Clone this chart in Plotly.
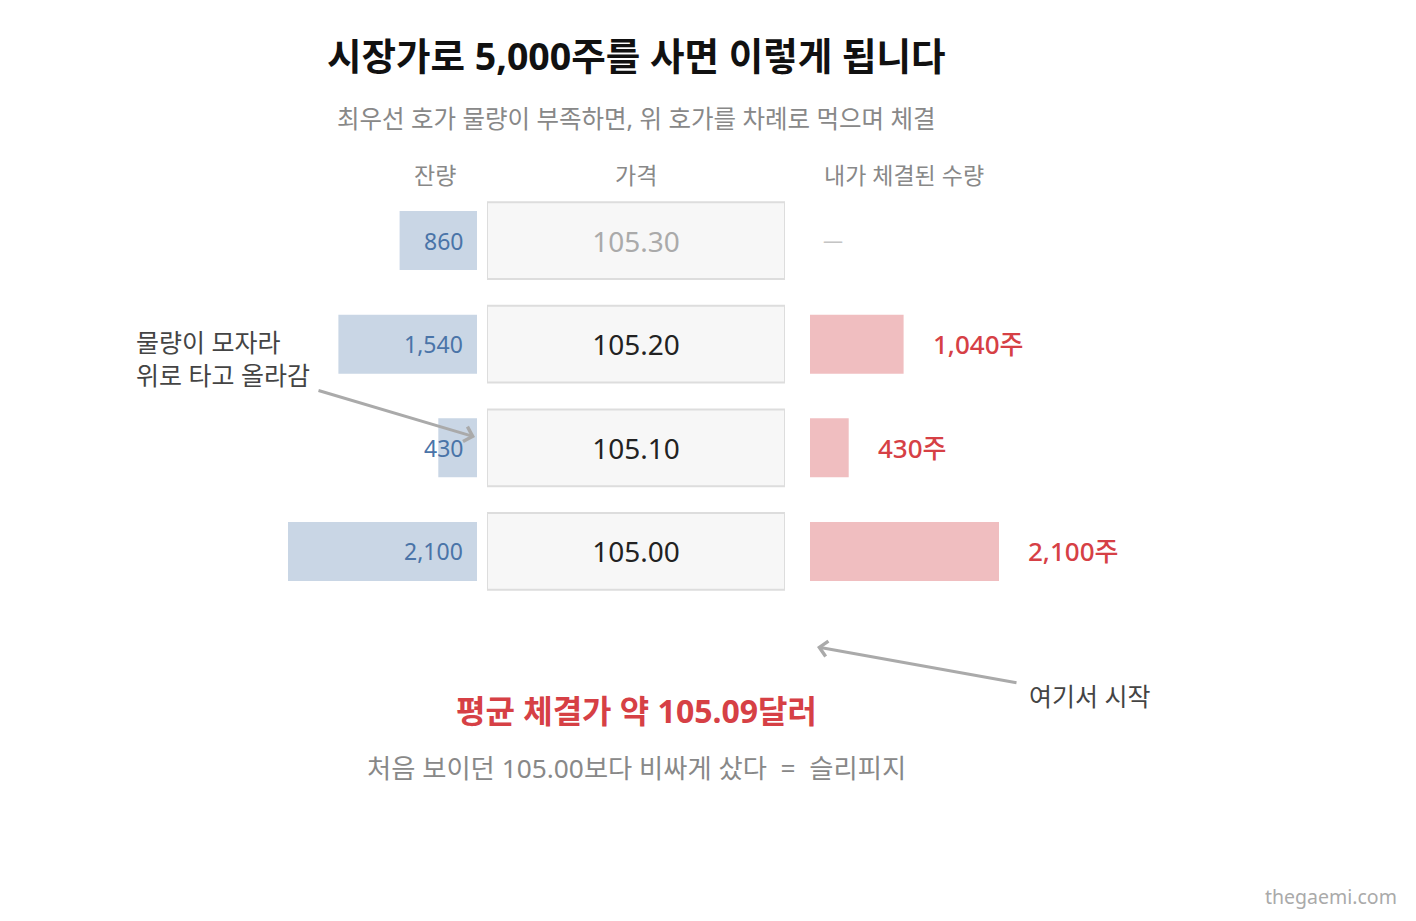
import plotly.graph_objects as go

# 호가창 데이터
prices = ['105.30', '105.20', '105.10', '105.00']
remaining = [860, 1540, 430, 2100]      # 잔량
filled = [0, 1040, 430, 2100]           # 내가 체결된 수량
rows = [0, 1, 2, 3]
price_colors = ['#aaaaaa', '#222222', '#222222', '#222222']

# 페이지 body 여백(8px) 만큼 피겨를 줄여서 화면에 딱 맞게
OX, OY = 8, 8
FW, FH = 1400, 905
FONT = 'Noto Sans, Noto Sans CJK KR'
SCALE = 0.09   # 주식 1주당 픽셀


def px(x):
    return (x - OX) / FW


def py(y):
    return 1 - (y - OY) / FH


fig = go.Figure()

# 잔량 (왼쪽, 오른쪽 끝 정렬)
fig.add_trace(go.Bar(
    x=remaining, y=rows, orientation='h', xaxis='x', yaxis='y',
    marker=dict(color='#c9d6e5', line=dict(width=0)), width=0.57,
    hoverinfo='skip',
))

# 가격 박스
fig.add_trace(go.Bar(
    x=[1] * len(prices), y=rows, orientation='h', xaxis='x3', yaxis='y',
    marker=dict(color='#f7f7f7', line=dict(color='#dddddd', width=2)),
    width=0.74, text=prices, textposition='inside', insidetextanchor='middle',
    textfont=dict(family=FONT, size=28, color=price_colors),
    hoverinfo='skip',
))

# 체결 수량 (오른쪽)
fig.add_trace(go.Bar(
    x=filled, y=rows, orientation='h', xaxis='x2', yaxis='y',
    marker=dict(color='#f0bec0', line=dict(width=0)), width=0.57,
    hoverinfo='skip',
))

annotations = []

for r, v in zip(rows, remaining):
    annotations.append(dict(
        x=0, y=r, xref='x', yref='y', xanchor='right', yanchor='middle',
        xshift=-12, text=f'{v:,}', showarrow=False,
        font=dict(family=FONT, size=23, color='#4a74a8'),
    ))

for r, v in zip(rows, filled):
    if v == 0:
        annotations.append(dict(
            x=0, y=r, xref='x2', yref='y', xanchor='left', yanchor='middle',
            xshift=11, text='—', showarrow=False,
            font=dict(family=FONT, size=20, color='#c4c4c4'),
        ))
    else:
        annotations.append(dict(
            x=v, y=r, xref='x2', yref='y', xanchor='left', yanchor='middle',
            xshift=27, text=f'{v:,}주', showarrow=False,
            font=dict(family=FONT, size=26, color='#d64045', weight=500),
        ))


def label(x, y, text, size, color, xanchor='center', **kw):
    return dict(x=px(x), y=py(y), xref='paper', yref='paper', showarrow=False,
                xanchor=xanchor, yanchor='middle', text=text,
                font=dict(family=FONT, size=size, color=color), **kw)


def arrow(x0, y0, x1, y1):
    return dict(x=px(x1), y=py(y1), xref='paper', yref='paper', text='',
                showarrow=True, ax=x0 - x1, ay=y0 - y1, arrowhead=4,
                arrowsize=1, arrowwidth=3, arrowcolor='#aaaaaa')


annotations += [
    label(636, 55, '<b>시장가로 5,000주를 사면 이렇게 됩니다</b>', 37.5, '#111111'),
    label(636, 118, '최우선 호가 물량이 부족하면, 위 호가를 차례로 먹으며 체결', 24.5, '#888888'),
    # 열 제목
    label(435, 175, '잔량', 23, '#888888'),
    label(636, 175, '가격', 23, '#888888'),
    label(822, 175, '내가 체결된 수량', 23, '#888888', xanchor='left'),
    # 설명
    label(134, 358, '물량이 모자라<br>위로 타고 올라감', 25, '#444444',
          xanchor='left', align='left'),
    arrow(317, 390, 475, 437),
    label(1027, 696, '여기서 시작', 25, '#444444', xanchor='left'),
    arrow(1018, 683, 817, 647),
    # 결론
    label(636, 710, '<b>평균 체결가 약 105.09달러</b>', 32, '#d64045'),
    label(636, 768, '처음 보이던 105.00보다 비싸게 샀다  =  슬리피지', 26.3, '#888888'),
    label(1399, 896, 'thegaemi.com', 19.5, '#aaaaaa', xanchor='right'),
]

axis_off = dict(visible=False, showgrid=False, zeroline=False, fixedrange=True)

fig.update_layout(
    width=FW, height=FH,
    margin=dict(l=0, r=0, t=0, b=0),
    paper_bgcolor='white', plot_bgcolor='rgba(0,0,0,0)',
    showlegend=False, barmode='overlay',
    xaxis=dict(axis_off, domain=[0, px(477)], range=[(477 - OX) / SCALE, 0], anchor='y'),
    xaxis2=dict(axis_off, domain=[px(810), 1], range=[0, (OX + FW - 810) / SCALE], anchor='y'),
    xaxis3=dict(axis_off, domain=[px(487), px(785)], range=[0, 1], anchor='y'),
    yaxis=dict(axis_off, domain=[py(603.3), py(188.7)], range=[3.5, -0.5]),
    annotations=annotations,
    font=dict(family=FONT),
)

fig.write_html('out.html')
